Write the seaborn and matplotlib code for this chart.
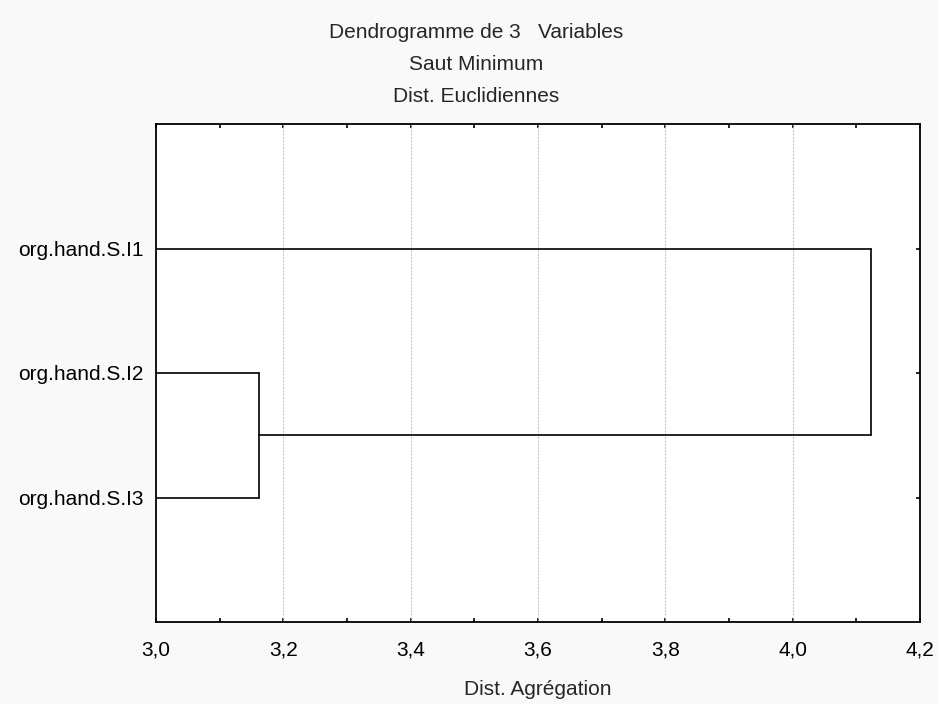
import matplotlib
matplotlib.use("Agg")
import matplotlib.pyplot as plt
from matplotlib.ticker import MultipleLocator, FuncFormatter
import seaborn as sns
import pandas as pd

# Data
leaves = ["org.hand.S.I1", "org.hand.S.I2", "org.hand.S.I3"]
merge_left = ["org.hand.S.I2", "cluster1"]
merge_right = ["org.hand.S.I3", "org.hand.S.I1"]
merge_names = ["cluster1", "cluster2"]
merge_heights = [3.162, 4.123]
base_distance = 3.0
x_ticks = [3.0, 3.2, 3.4, 3.6, 3.8, 4.0, 4.2]
title_lines = ["Dendrogramme de 3   Variables", "Saut Minimum", "Dist. Euclidiennes"]
x_label = "Dist. Agrégation"

sns.set_style("white")
plt.rcParams["font.family"] = ["Liberation Sans", "DejaVu Sans"]
FS = 15

# Build segments from the linkage
pos = {name: (i + 1, base_distance) for i, name in enumerate(leaves)}
rows = []
seg = 0
for a, b, name, h in zip(merge_left, merge_right, merge_names, merge_heights):
    ya, xa = pos[a]
    yb, xb = pos[b]
    for xs, ys in [((xa, h), (ya, ya)), ((h, h), (ya, yb)), ((xb, h), (yb, yb))]:
        for x, y in zip(xs, ys):
            rows.append({"seg": seg, "x": x, "y": y})
        seg += 1
    pos[name] = ((ya + yb) / 2, h)
df = pd.DataFrame(rows)

fig = plt.figure(figsize=(9.38, 7.04), dpi=100, facecolor="#f9f9f9")
L, R, T, B = 156, 920, 124, 622
ax = fig.add_axes([L / 938, 1 - B / 704, (R - L) / 938, (B - T) / 704])
ax.set_facecolor("white")

sns.lineplot(data=df, x="x", y="y", units="seg", estimator=None, sort=False,
             color="black", linewidth=1.2, ax=ax, zorder=3)

ax.set_xlim(x_ticks[0], x_ticks[-1])
ax.set_ylim(len(leaves) + 1, 0)
ax.set_xticks(x_ticks)
ax.xaxis.set_minor_locator(MultipleLocator(0.1))
ax.xaxis.set_major_formatter(FuncFormatter(lambda v, p: f"{v:.1f}".replace(".", ",")))
ax.set_yticks(range(1, len(leaves) + 1))
ax.set_yticklabels(leaves)

for v in x_ticks[1:-1]:
    ax.axvline(v, color="#c8c8c8", linewidth=0.8, linestyle=(0, (2, 1)), zorder=1)

for s in ax.spines.values():
    s.set_color("black")
    s.set_linewidth(1.3)

ax.tick_params(axis="x", which="both", direction="in", top=True, bottom=True,
               length=3, width=1.2, labelsize=FS, pad=13, colors="black")
ax.tick_params(axis="y", which="both", direction="in", left=False, right=True,
               length=3, width=1.2, labelsize=FS, pad=9, colors="black")

ax.set_xlabel(x_label, fontsize=FS, labelpad=15)
ax.set_ylabel("")

for txt, y in zip(title_lines, [33, 65, 97]):
    fig.text(476 / 938, 1 - y / 704, txt, ha="center", va="center", fontsize=FS)

fig.savefig("out.png", dpi=100, facecolor=fig.get_facecolor())
